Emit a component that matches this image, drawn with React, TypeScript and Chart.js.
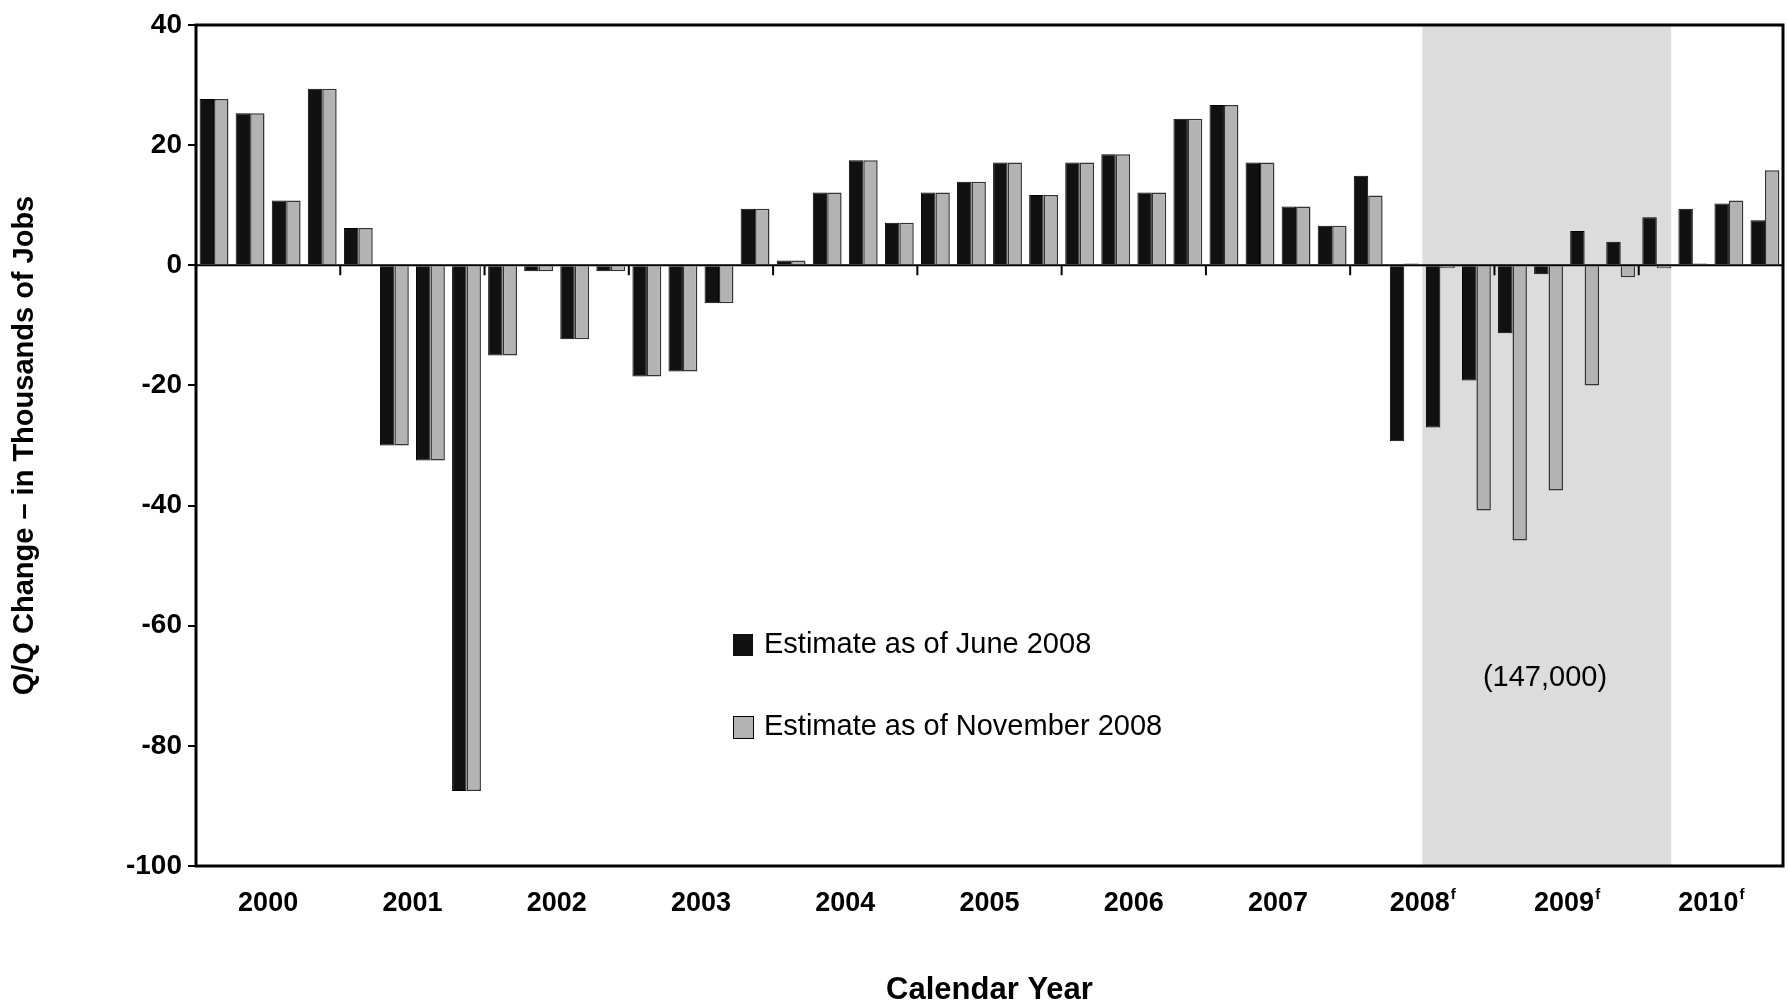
import { Chart, registerables } from "chart.js"
import React, { useEffect, useRef } from "react"

Chart.register(...registerables)

const years = ["2000", "2001", "2002", "2003", "2004", "2005", "2006", "2007", "2008", "2009", "2010"]
const forecastYears = ["2008", "2009", "2010"]
const quarters = years.flatMap((y) => ["Q1", "Q2", "Q3", "Q4"].map((q) => `${y} ${q}`))

const june2008 = [
  27.7, 25.3, 10.8, 29.4, 6.2, -30, -32.5, -87.5, -15, -1, -12.3, -1, -18.5, -17.7, -6.3, 9.4,
  0.8, 12.1, 17.5, 7.1, 12.1, 13.9, 17.1, 11.7, 17.1, 18.5, 12.1, 24.4, 26.7, 17.1, 9.8, 6.6,
  14.9, -29.3, -27, -19.2, -11.3, -1.5, 5.7, 3.9, 8, 9.4, 10.3, 7.5,
]
const nov2008 = [
  27.7, 25.3, 10.8, 29.4, 6.2, -30, -32.5, -87.5, -15, -1, -12.3, -1, -18.5, -17.7, -6.3, 9.4,
  0.8, 12.1, 17.5, 7.1, 12.1, 13.9, 17.1, 11.7, 17.1, 18.5, 12.1, 24.4, 26.7, 17.1, 9.8, 6.6,
  11.6, 0.3, -0.5, -40.8, -45.8, -37.5, -20, -2, -0.5, 0.3, 10.8, 15.8,
]
const shadeFrom = 34
const shadeTo = 40.9
const FONT = "'Liberation Sans', Arial, sans-serif"

const decor = {
  id: "decor",
  beforeDatasetsDraw(chart: any) {
    const { ctx, chartArea: a, scales } = chart
    const x = scales.x
    const step = x.getPixelForValue(1) - x.getPixelForValue(0)
    const left = x.getPixelForValue(0) - step / 2
    ctx.save()
    ctx.fillStyle = "#dcdcdc"
    ctx.fillRect(left + shadeFrom * step, a.top, (shadeTo - shadeFrom) * step, a.bottom - a.top)
    ctx.restore()
  },
  afterDatasetsDraw(chart: any) {
    const { ctx, chartArea: a, scales } = chart
    const x = scales.x
    const y = scales.y
    const step = x.getPixelForValue(1) - x.getPixelForValue(0)
    const left = x.getPixelForValue(0) - step / 2
    const y0 = y.getPixelForValue(0)
    ctx.save()
    ctx.strokeStyle = "#000"
    ctx.lineWidth = 2
    ctx.beginPath()
    ctx.moveTo(a.left, y0)
    ctx.lineTo(a.right, y0)
    for (let i = 1; i < years.length; i++) {
      const px = left + i * 4 * step
      ctx.moveTo(px, y0)
      ctx.lineTo(px, y0 + 10)
    }
    ctx.stroke()
    ctx.lineWidth = 3
    ctx.strokeRect(a.left, a.top, a.right - a.left, a.bottom - a.top)

    // year labels
    ctx.fillStyle = "#000"
    ctx.textBaseline = "middle"
    years.forEach((yr, i) => {
      const cx = left + (i * 4 + 2) * step
      ctx.font = `bold 27px ${FONT}`
      const w = ctx.measureText(yr).width
      const f = forecastYears.includes(yr)
      ctx.font = `bold 15px ${FONT}`
      const fw = f ? ctx.measureText("f").width : 0
      const sx = cx - (w + fw) / 2
      ctx.font = `bold 27px ${FONT}`
      ctx.textAlign = "left"
      ctx.fillText(yr, sx, a.bottom + 38)
      if (f) {
        ctx.font = `bold 15px ${FONT}`
        ctx.fillText("f", sx + w + 1, a.bottom + 29)
      }
    })

    // x axis title
    ctx.font = `bold 31px ${FONT}`
    ctx.textAlign = "center"
    ctx.fillText("Calendar Year", (a.left + a.right) / 2, 990)

    // legend
    ctx.textAlign = "left"
    ctx.font = `29px ${FONT}`
    ctx.fillStyle = "#111"
    ctx.fillRect(733, 634, 20, 22)
    ctx.fillStyle = "#b3b3b3"
    ctx.fillRect(733, 716, 20, 22)
    ctx.lineWidth = 1
    ctx.strokeRect(733.5, 716.5, 20, 22)
    ctx.fillStyle = "#000"
    ctx.fillText("Estimate as of June 2008", 764, 645)
    ctx.fillText("Estimate as of November 2008", 764, 727)
    ctx.textAlign = "center"
    ctx.fillText("(147,000)", 1545, 678)
    ctx.restore()
  },
}

const App: React.FC = () => {
  const canvasRef = useRef<HTMLCanvasElement>(null)

  useEffect(() => {
    const ctx = canvasRef.current?.getContext("2d")
    if (!ctx) return
    const chart = new Chart(ctx, {
      type: "bar",
      data: {
        labels: quarters,
        datasets: [
          {
            label: "Estimate as of June 2008",
            data: june2008,
            backgroundColor: "#111111",
            borderColor: "#000",
            borderWidth: 1,
          },
          {
            label: "Estimate as of November 2008",
            data: nov2008,
            backgroundColor: "#b3b3b3",
            borderColor: "#333",
            borderWidth: 1.5,
          },
        ],
      },
      options: {
        responsive: false,
        animation: false,
        layout: { padding: { top: 25, right: 5, left: 8, bottom: 0 } },
        datasets: { bar: { categoryPercentage: 0.8, barPercentage: 1 } },
        plugins: { legend: { display: false }, tooltip: { enabled: false } },
        scales: {
          x: {
            ticks: { display: false },
            grid: { display: false },
            border: { display: false },
            afterFit: (s: any) => {
              s.height = 142
            },
          },
          y: {
            min: -100,
            max: 40,
            ticks: {
              stepSize: 20,
              color: "#000",
              font: { family: FONT, size: 28, weight: "bold" },
              padding: 6,
            },
            grid: { drawOnChartArea: false, tickLength: 8, color: "#000", lineWidth: 2 },
            border: { display: false },
            title: {
              display: true,
              text: "Q/Q Change – in Thousands of Jobs",
              color: "#000",
              font: { family: FONT, size: 29, weight: "bold" },
              padding: { top: 0, bottom: 8 },
            },
            afterFit: (s: any) => {
              s.width = 188
            },
          },
        },
      },
      plugins: [decor],
    })
    return () => chart.destroy()
  }, [])

  return (
    <div style={{ position: "absolute", left: 0, top: 0, width: 1788, height: 1008, background: "#fff" }}>
      <canvas ref={canvasRef} width={1788} height={1008} />
    </div>
  )
}

export default App
